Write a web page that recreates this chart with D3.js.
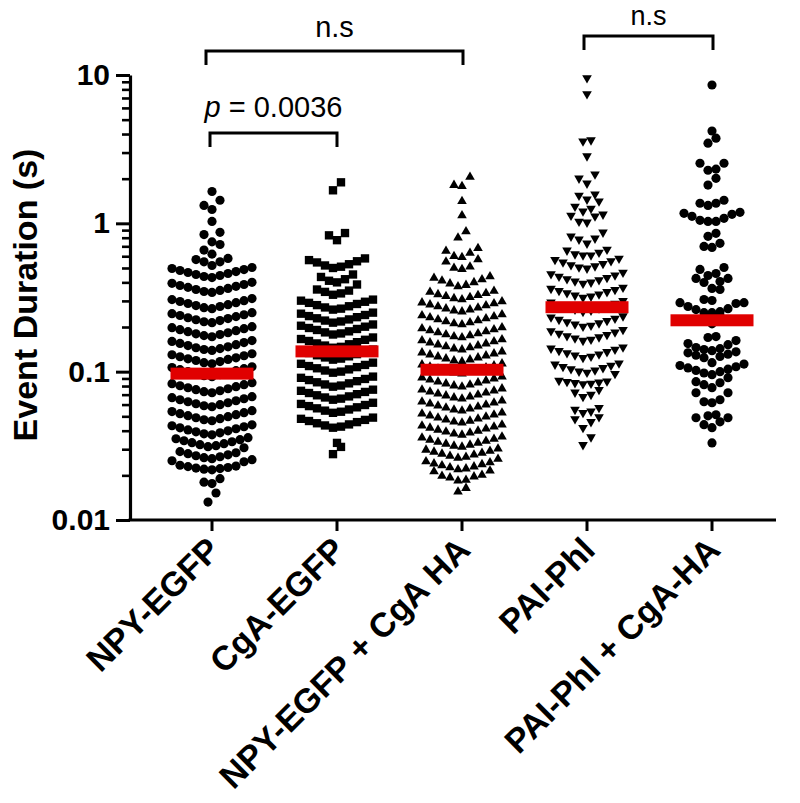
<!DOCTYPE html>
<html><head><meta charset="utf-8">
<script src="https://cdn.jsdelivr.net/npm/d3@7"></script>
<style>body{margin:0;background:#fff}svg{display:block}</style>
</head><body>
<svg id="chart" width="800" height="803"></svg>
<script>
const categories = ["NPY-EGFP", "CgA-EGFP", "NPY-EGFP + CgA HA", "PAI-Phl", "PAI-Phl + CgA-HA"];
const markerShapes = ["circle", "square", "triangle", "triangleDown", "circle"];

const npyEgfp = [
1.64, 1.43, 1.32, 1.24, 1.03, 0.87, 0.84, 0.75, 0.72, 0.66,
0.62, 0.58, 0.57, 0.55, 0.55, 0.52,
0.504, 0.496, 0.488, 0.481, 0.473, 0.466, 0.459, 0.452, 0.445, 0.438, 0.431,
0.400, 0.394, 0.387, 0.381, 0.376, 0.370, 0.364, 0.358, 0.353, 0.347, 0.342,
0.311, 0.306, 0.301, 0.297, 0.292, 0.288, 0.283, 0.279, 0.275, 0.270, 0.266,
0.250, 0.246, 0.242, 0.239, 0.235, 0.231, 0.228, 0.224, 0.221, 0.217, 0.214,
0.201, 0.198, 0.195, 0.192, 0.189, 0.186, 0.183, 0.180, 0.178, 0.175, 0.172,
0.162, 0.160, 0.157, 0.155, 0.152, 0.150, 0.147, 0.145, 0.143, 0.141, 0.139,
0.132, 0.130, 0.128, 0.126, 0.124, 0.122, 0.121, 0.119, 0.117, 0.115, 0.113,
0.108, 0.1065, 0.1048, 0.1031, 0.1016, 0.100, 0.0984, 0.097, 0.0955, 0.094, 0.0925,
0.0843, 0.083, 0.0817, 0.0804, 0.0792, 0.0779, 0.0767, 0.0756, 0.0744, 0.0733, 0.0721,
0.0678, 0.0668, 0.0657, 0.0647, 0.0637, 0.0627, 0.0617, 0.0608, 0.0599, 0.0589, 0.058,
0.0546, 0.0538, 0.0529, 0.0521, 0.0513, 0.0505, 0.0497, 0.0489, 0.0482, 0.0474, 0.0467,
0.0438, 0.0432, 0.0425, 0.0418, 0.0412, 0.0405, 0.0399, 0.0393, 0.0387, 0.0381, 0.0375,
0.0359, 0.0353, 0.0348, 0.0342, 0.0337, 0.0332, 0.0327, 0.0322, 0.0317, 0.0312, 0.0307,
0.0289, 0.0284, 0.028, 0.0275, 0.0271, 0.0267, 0.0263, 0.0259, 0.0255, 0.0251, 0.0247,
0.0234, 0.0231, 0.0229, 0.0226, 0.0224, 0.0222, 0.0220, 0.0218,
0.0190, 0.018, 0.0176, 0.0152, 0.0132
];

const cgaEgfp = [
1.89, 1.67, 0.86, 0.83, 0.77,
0.58, 0.565, 0.555, 0.545, 0.53, 0.52, 0.51, 0.50,
0.452, 0.435, 0.42, 0.41, 0.40, 0.387,
0.358, 0.352, 0.345, 0.337, 0.330,
0.306, 0.301, 0.296, 0.291, 0.286, 0.281, 0.276, 0.271, 0.266, 0.262,
0.250, 0.246, 0.241, 0.237, 0.233, 0.229, 0.225, 0.221, 0.218, 0.214,
0.208, 0.204, 0.201, 0.197, 0.194, 0.191, 0.187, 0.184, 0.181, 0.178,
0.170, 0.166, 0.164, 0.161, 0.158, 0.155, 0.153, 0.150, 0.147, 0.145,
0.1409, 0.1383, 0.1359, 0.1336, 0.1313, 0.129, 0.1269, 0.1247, 0.1225, 0.1205,
0.115, 0.113, 0.111, 0.1091, 0.1073, 0.1054, 0.1036, 0.1018, 0.1001, 0.0984,
0.0926, 0.0909, 0.0893, 0.0878, 0.0863, 0.0848, 0.0834, 0.082, 0.0806, 0.0792,
0.0756, 0.0743, 0.073, 0.0718, 0.0705, 0.0693, 0.0681, 0.067, 0.0658, 0.0647,
0.0617, 0.0606, 0.0596, 0.0586, 0.0575, 0.0566, 0.0556, 0.0546, 0.0537, 0.0528,
0.049, 0.0481, 0.0473, 0.0465, 0.0457, 0.0449, 0.0441, 0.0434, 0.0426, 0.0419,
0.0331, 0.0311, 0.0278
];

const npyCgaHa = [
2.05, 1.81, 1.78, 1.41, 1.13, 0.88, 0.80,
0.68, 0.65, 0.63, 0.60, 0.59, 0.57, 0.55,
0.51, 0.50, 0.49,
0.438, 0.428, 0.418, 0.410, 0.400, 0.392, 0.383, 0.375,
0.350, 0.344, 0.338, 0.332, 0.327, 0.322, 0.317, 0.312, 0.3065,
0.297, 0.292, 0.288, 0.283, 0.279, 0.275, 0.270, 0.266, 0.262, 0.258, 0.254,
0.2428, 0.239, 0.2353, 0.2316, 0.228, 0.2245, 0.221, 0.2177, 0.2143, 0.211, 0.2077,
0.1985, 0.1954, 0.1924, 0.1893, 0.1864, 0.1836, 0.1807, 0.178, 0.1752, 0.1725, 0.1698,
0.1646, 0.162, 0.1595, 0.157, 0.1546, 0.1522, 0.1498, 0.1476, 0.1453, 0.143, 0.1408,
0.1365, 0.1344, 0.1323, 0.1302, 0.1282, 0.1263, 0.1243, 0.1224, 0.1205, 0.1187, 0.1168,
0.1133, 0.1115, 0.1098, 0.108, 0.1064, 0.1047, 0.1031, 0.1016, 0.1, 0.0985, 0.0969,
0.0926, 0.0912, 0.0897, 0.0883, 0.087, 0.0856, 0.0843, 0.083, 0.0817, 0.0805, 0.0792,
0.0768, 0.0756, 0.0744, 0.0733, 0.0721, 0.071, 0.0699, 0.0689, 0.0678, 0.0668, 0.0657,
0.0637, 0.0627, 0.0617, 0.0608, 0.0598, 0.0589, 0.058, 0.0571, 0.0562, 0.0554, 0.0545,
0.0528, 0.052, 0.0512, 0.0504, 0.0496, 0.0489, 0.0481, 0.0474, 0.0466, 0.0459, 0.0452,
0.0438, 0.0432, 0.0425, 0.0418, 0.0412, 0.0405, 0.0399, 0.0393, 0.0387, 0.0381, 0.0375,
0.0364, 0.0358, 0.0352, 0.0347, 0.0341, 0.0336, 0.0331, 0.0326, 0.0321, 0.0316, 0.0311,
0.0302, 0.0297, 0.0292, 0.0288, 0.0283, 0.0279, 0.0275, 0.027, 0.0266, 0.0262, 0.0258,
0.0248, 0.0244, 0.024, 0.0237, 0.0233, 0.0229, 0.0226, 0.0222, 0.0219, 0.0215, 0.0212,
0.0201, 0.0198, 0.0196, 0.0193, 0.0186, 0.0184, 0.0164, 0.0155
];

const paiPhl = [
9.55, 7.44, 3.64, 3.58, 2.84, 2.14, 2.01, 1.86, 1.57, 1.54, 1.45, 1.41, 1.30, 1.26, 1.205,
1.15, 1.13, 1.115, 1.03, 1.015, 0.869, 0.817, 0.792, 0.78, 0.733, 0.667, 0.657, 0.636, 0.62, 0.61, 0.61,
0.580, 0.568, 0.557, 0.546, 0.534, 0.524, 0.515, 0.506, 0.497,
0.466, 0.456, 0.447, 0.438, 0.430, 0.422, 0.415, 0.407, 0.400, 0.393,
0.369, 0.363, 0.357, 0.351, 0.345, 0.339, 0.333, 0.327, 0.322, 0.316,
0.300, 0.294, 0.288, 0.283, 0.278, 0.273, 0.268, 0.263, 0.259, 0.254,
0.2368, 0.2326, 0.2285, 0.2244, 0.2204, 0.2165, 0.2126, 0.2088, 0.205, 0.2014,
0.1915, 0.188, 0.1845, 0.181, 0.1775, 0.174, 0.171, 0.168, 0.165, 0.162,
0.1462, 0.1436, 0.141, 0.1385, 0.136, 0.1336, 0.1312, 0.1289, 0.1266, 0.1243,
0.114, 0.112, 0.11, 0.108, 0.1061, 0.1042, 0.1023, 0.1005, 0.0987, 0.0969,
0.087, 0.0863, 0.0856, 0.0848, 0.084, 0.0833, 0.0826,
0.0756, 0.0725, 0.070, 0.0678,
0.0571, 0.0555, 0.054, 0.0528,
0.0495, 0.048, 0.0459,
0.0419, 0.0362, 0.0321
];

const paiPhlCgaHa = [
8.56, 4.19, 3.75, 3.47, 2.54, 2.54, 2.32, 2.28, 2.01, 1.81, 1.43, 1.365, 1.365, 1.32,
1.186, 1.168, 1.15, 1.115, 1.081, 1.048, 1.03, 1.03, 0.856, 0.817, 0.733, 0.699, 0.688,
0.504, 0.489, 0.459, 0.445, 0.425, 0.425, 0.405, 0.399, 0.364, 0.358,
0.3065, 0.302, 0.292, 0.292, 0.288, 0.275, 0.266, 0.262, 0.254, 0.250, 0.250,
0.240, 0.225, 0.210,
0.1724, 0.170, 0.162, 0.1546, 0.152,
0.1453, 0.143, 0.141, 0.1385, 0.136, 0.134, 0.1312, 0.129, 0.1266, 0.1243,
0.115, 0.1125, 0.11, 0.108, 0.106, 0.104, 0.102, 0.1, 0.098, 0.0954,
0.0911, 0.0856, 0.0842, 0.0817, 0.078, 0.0721, 0.0721, 0.0647, 0.0627, 0.0617,
0.0512, 0.0504, 0.0489, 0.0489, 0.0459, 0.0439, 0.0419,
0.0331
];

const groupValues = [npyEgfp, cgaEgfp, npyCgaHa, paiPhl, paiPhlCgaHa];
const medians = [0.097, 0.137, 0.103, 0.272, 0.222];
const yMajorTicks = [0.01, 0.1, 1, 10];
const yTickLabels = ["0.01", "0.1", "1", "10"];
const compFrom = [0, 0, 3];
const compTo = [2, 1, 4];
const compLabels = ["n.s", "p = 0.0036", "n.s"];

const FONT = "'Liberation Sans', Arial, Helvetica, sans-serif";
const svg = d3.select("#chart");
svg.append("rect").attr("width", 800).attr("height", 803).attr("fill", "#fff");

const y = d3.scaleLog().domain([0.01, 10]).range([520, 75]);
const x = d3.scaleBand().domain(categories).range([149.5, 774.5]).padding(0);
const cx = c => x(c) + x.bandwidth() / 2;

// minor ticks
const minorTicks = [];
[0.01, 0.1, 1].forEach(d => { for (let k = 2; k <= 9; k++) minorTicks.push(+(d * k).toPrecision(3)); });

const yAxisMinor = svg.append("g").attr("transform", "translate(130,0)")
  .call(d3.axisLeft(y).tickValues(minorTicks).tickSize(8).tickSizeOuter(0).tickFormat(""));
yAxisMinor.select(".domain").remove();
yAxisMinor.selectAll(".tick line").attr("stroke", "#000").attr("stroke-width", 2.6);

const yAxis = svg.append("g").attr("transform", "translate(130,0)")
  .call(d3.axisLeft(y).tickValues(yMajorTicks).tickSize(14).tickSizeOuter(0).tickPadding(6)
    .tickFormat((d, i) => yTickLabels[i]));
yAxis.select(".domain").attr("stroke", "#000").attr("stroke-width", 3.2);
yAxis.selectAll(".tick line").attr("stroke", "#000").attr("stroke-width", 3);
yAxis.selectAll(".tick text").attr("font-family", FONT).attr("font-size", 30).attr("font-weight", "bold").attr("fill", "#000");

// x axis
const xAxis = svg.append("g").attr("transform", "translate(0,520)")
  .call(d3.axisBottom(x).tickSize(11).tickSizeOuter(0).tickFormat(""));
xAxis.select(".domain").remove();
xAxis.selectAll(".tick line").attr("stroke", "#000").attr("stroke-width", 3);
svg.append("line").attr("x1", 128.5).attr("x2", 776).attr("y1", 520).attr("y2", 520)
  .attr("stroke", "#000").attr("stroke-width", 3.2);

// x labels
svg.append("g").selectAll("text").data(categories).join("text")
  .attr("transform", d => `translate(${cx(d) + 10},552) rotate(-45)`)
  .attr("text-anchor", "end")
  .attr("font-family", FONT).attr("font-size", 34).attr("font-weight", "bold").attr("fill", "#000")
  .text(d => d);

// y title
svg.append("text")
  .attr("transform", "translate(37,295) rotate(-90)")
  .attr("text-anchor", "middle")
  .attr("font-family", FONT).attr("font-size", 34).attr("font-weight", "bold").attr("fill", "#000")
  .text("Event Duration (s)");

// layout points (Prism-like scatter: bin by row, sorted center-out)
const rowH = 11, spacing = 8;
const points = [];
groupValues.forEach((vals, gi) => {
  const sorted = vals.slice().sort((a, b) => a - b);
  const rows = [];
  let cur = null;
  sorted.forEach(v => {
    const py = y(v);
    if (!cur || cur.y0 - py > rowH || cur.pts.length >= 12) { cur = { y0: py, pts: [] }; rows.push(cur); }
    cur.pts.push(v);
  });
  rows.forEach(r => {
    const n = r.pts.length;
    const offs = d3.range(n).map(i => (i - (n - 1) / 2) * spacing);
    offs.sort((a, b) => Math.abs(a) - Math.abs(b) || a - b);
    r.pts.forEach((v, i) => points.push({ gi, v, dx: offs[i] }));
  });
});

const symGen = {
  circle: d3.symbol().type(d3.symbolCircle).size(66),
  square: d3.symbol().type(d3.symbolSquare).size(70),
  triangle: d3.symbol().type(d3.symbolTriangle).size(40),
  triangleDown: d3.symbol().type(d3.symbolTriangle).size(40)
};

svg.append("g").selectAll("path").data(points).join("path")
  .attr("d", d => symGen[markerShapes[d.gi]]())
  .attr("transform", d => {
    const t = `translate(${cx(categories[d.gi]) + d.dx},${y(d.v)})`;
    return markerShapes[d.gi] === "triangleDown" ? t + " rotate(180)" : t;
  })
  .attr("fill", "#000");

// median bars
svg.append("g").selectAll("rect").data(medians).join("rect")
  .attr("x", (d, i) => cx(categories[i]) - 41.5)
  .attr("width", 83)
  .attr("y", d => y(d) - 6)
  .attr("height", 12)
  .attr("fill", "#e00000");

// comparison brackets
const bracketY = [51, 133, 36];
const labelY = [37, 117, 25];
const offL = [-6, -2, -3];
const offR = [1, 0, 1];
compFrom.forEach((f, i) => {
  const x1 = cx(categories[f]) + offL[i], x2 = cx(categories[compTo[i]]) + offR[i];
  const by = bracketY[i];
  svg.append("path")
    .attr("d", `M${x1},${by + 14}V${by}H${x2}V${by + 14}`)
    .attr("fill", "none").attr("stroke", "#000").attr("stroke-width", 3);
  const t = svg.append("text")
    .attr("x", (x1 + x2) / 2).attr("y", labelY[i])
    .attr("text-anchor", "middle")
    .attr("font-family", FONT).attr("font-size", i === 2 ? 27 : 29).attr("fill", "#000");
  const lab = compLabels[i];
  if (lab.startsWith("p ")) {
    t.append("tspan").attr("font-style", "italic").text("p");
    t.append("tspan").text(lab.slice(1));
  } else {
    t.text(lab);
  }
});
</script>
</body></html>
